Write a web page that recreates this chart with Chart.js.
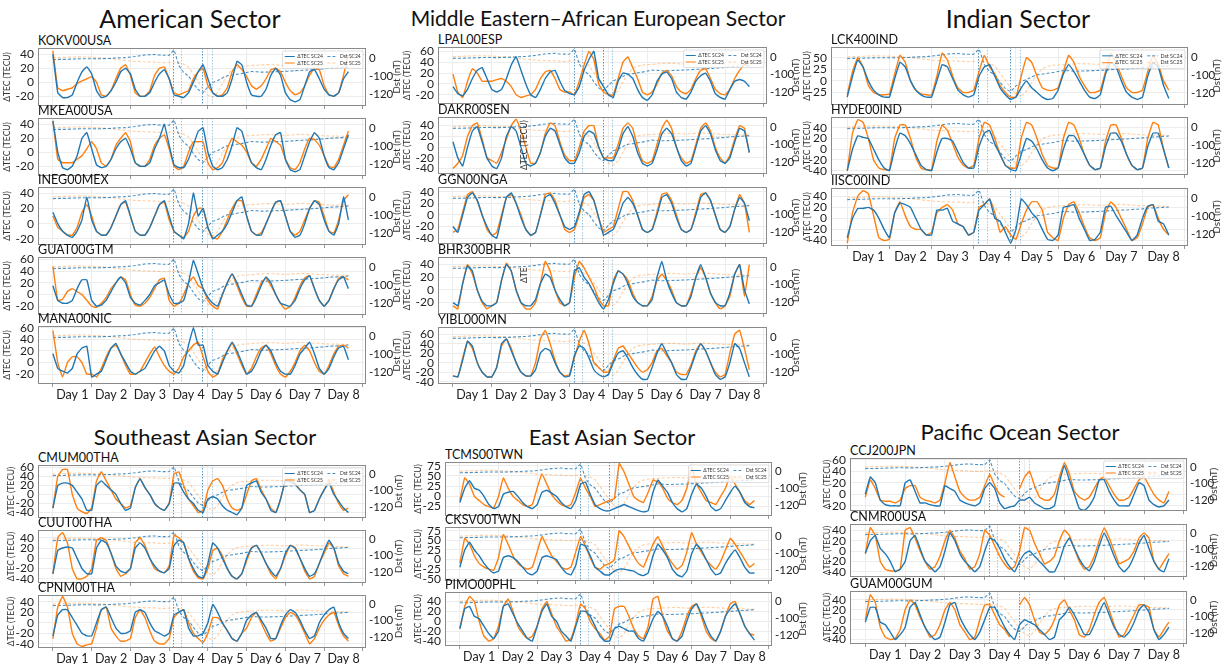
<!DOCTYPE html>
<html>
<head>
<meta charset="utf-8">
<script src="https://cdn.jsdelivr.net/npm/chart.js@4.4.0/dist/chart.umd.min.js"></script>
<style>
  body { margin: 0; background: #fff; }
  #fig { position: relative; width: 1231px; height: 664px; overflow: hidden; font-family: Lato, 'Open Sans', sans-serif; color: #111; }
  .sector { position: absolute; line-height: 28px; white-space: nowrap; transform: translateX(-50%); }
  .station { position: absolute; font-size: 12.5px; line-height: 14px; white-space: nowrap; }
  .stray { position: absolute; font-size: 8.5px; line-height: 10px; white-space: nowrap; color: #333; transform-origin: left top; transform: rotate(-90deg); }
  canvas { position: absolute; }
</style>
</head>
<body>
<div id="fig"></div>
<script>
// ---- time axis (hours from start of Day 1) ----
const hours = [0,3,6,9,12,15,18,21, 24,27,30,33,36,39,42,45, 48,51,54,57,60,63,66,69,
  72,75,78,81,84,87,90,93, 96,99,102,105,108,111,114,117, 120,123,126,129,132,135,138,141,
  144,147,150,153,156,159,162,165, 168,171,174,177,180,183];
const dayLabels = ['Day 1','Day 2','Day 3','Day 4','Day 5','Day 6','Day 7','Day 8'];
const stormMarks = [74.5, 79.5, 92.5, 98.5];

// ---- Dst index (nT), storm of each cycle ----
const dstSC24 = [-9,-8,-8,-7,-6,-5,-4,-4, -4,-5,-4,-3,-2,0,1,2, 5,8,12,16,18,19,16,15,
  15,43,-41,-80,-100,-108,-115,-118, -112,-107,-105,-102,-98,-95,-90,-86,
  -80,-75,-76,-78,-78,-77,-76,-75, -74,-72,-70,-69,-67,-66,-64,-62, -60,-57,-55,-54,-52,-50];
const dstSC25 = [0,2,3,4,5,6,6,5, 4,2,1,-2,-4,-7,-10,-14, -17,-19,-20,-21,-22,-23,-25,-26,
  -24,-22,-27,-35,-50,-90,-106,-114, -121,-123,-118,-108,-97,-65,-52,-46,
  -44,-42,-40,-38,-37,-37,-38,-40, -41,-39,-37,-35,-36,-38,-40,-41, -43,-44,-45,-45,-46,-47];
const dstTicks = [0, -100, -120];

// ---- left axis tick sets (TECU) ----
const ticks40 = [-20, 0, 20, 40];
const ticks60 = [-20, 0, 20, 40, 60];
const ticksPM40 = [-40, -20, 0, 20, 40];
const ticksPM60 = [-40, -20, 0, 20, 40, 60];
const ticks50 = [-25, 0, 25, 50];
const ticks75 = [-25, 0, 25, 50, 75];
const ticks75w = [-50, -25, 0, 25, 50, 75];

// ---- ΔTEC series (TECU), SC24 and SC25 storms ----
const kokv24 = [40,-15,-22,-22,-18,0,15,22, 12,-12,-22,-20,-12,0,15,20, 12,-10,-20,-20,-15,0,12,18,
  5,-18,-20,-22,-15,0,15,25, 5,-15,-20,-20,-15,5,30,25, 0,-18,-20,-20,-10,10,20,10,
  -15,-25,-28,-25,-5,15,18,5, -10,-18,-20,-15,5,15];
const kokv25 = [45,-8,-12,-10,-8,-2,2,5, 8,0,-18,-20,-12,5,20,25, 10,-15,-20,-20,-12,10,20,22,
  5,-15,-18,-15,-12,5,15,20, -5,-15,-20,-18,-8,15,25,18, 8,-5,-10,-5,5,18,20,15,
  0,-12,-18,-15,-5,10,20,18, -5,-18,-20,-15,10,40];
const mkea24 = [45,0,-22,-25,-20,-5,20,28, 5,-18,-22,-20,-10,5,15,20, 5,-15,-20,-20,-15,5,20,40,
  10,-18,-22,-22,-10,10,30,35, 0,-20,-25,-22,-10,10,35,30, 5,-15,-22,-25,-10,10,25,28,
  -10,-25,-28,-25,-5,15,28,20, -5,-22,-25,-15,5,25];
const mkea25 = [45,-10,-15,-15,-15,-10,-5,5, 15,5,-15,-20,-10,10,20,28, 15,-15,-20,-20,-10,10,20,25,
  5,-20,-25,-20,0,15,15,15, -15,-25,-22,-15,5,20,15,10, 0,-15,-20,-10,5,20,15,10,
  -10,-22,-25,-15,5,20,18,10, -5,-20,-22,-10,10,30];
const ineg24 = [15,0,-10,-15,-18,-10,5,35, 5,-10,-15,-15,-5,10,25,30, 10,-10,-15,-15,-5,10,25,30,
  10,-10,-15,-20,0,40,10,20, -5,-20,-15,-10,0,15,30,35, 10,-10,-15,-15,0,15,28,30,
  10,-10,-18,-15,0,20,30,25, 5,-10,-15,0,35,5];
const ineg25 = [10,-5,-10,-15,-15,-5,15,25, 10,-10,-15,-15,-5,10,25,28, 10,-10,-15,-15,-5,10,25,28,
  5,-10,-15,-18,-10,10,20,20, -5,-18,-20,-10,5,20,30,30, 10,-10,-15,-12,0,15,28,30,
  10,-10,-15,-10,5,20,30,28, 10,-10,-12,5,30,38];
const guat24 = [15,-10,-15,-15,-10,10,25,25, -10,-20,-18,-10,5,20,30,20, -5,-15,-18,-10,0,15,20,25,
  0,-15,-15,-10,20,58,35,10, -5,-15,-20,0,20,35,20,0, -18,-20,-5,15,30,20,0,-15,
  -18,-20,-10,10,25,32,10,-10, -20,-10,10,25,30,10];
const guat25 = [48,-10,-8,5,10,5,0,-10, -20,-22,-15,-5,10,20,30,25, 0,-18,-20,-15,-5,10,25,28,
  -10,-20,-15,0,20,30,15,10, -10,-20,-25,0,20,35,15,-5, -20,-20,0,20,28,15,0,-15,
  -25,-20,-5,15,28,32,10,-10, -20,-10,10,28,30,25];
const mana24 = [15,-10,-15,-18,-10,15,25,28, -25,-20,-15,5,25,33,15,0, -15,-20,-15,-10,5,20,28,20,
  -5,-15,-18,-5,30,60,30,30, -5,-15,-20,0,20,35,20,0, -20,-15,0,20,30,20,0,-15,
  -20,-20,-5,15,25,35,15,-10, -20,-10,10,25,28,5];
const mana25 = [55,0,-25,0,10,10,0,-20, -20,-25,-10,10,25,30,15,-5, -20,-20,-15,0,15,27,10,-5,
  -15,-20,-10,10,20,30,35,10, -15,-25,-20,5,20,33,15,-5, -20,-10,10,25,30,15,-5,-20,
  -25,-15,0,20,30,20,0,-15, -20,-5,15,28,30,25];

const lpal24 = [-5,-18,-22,-10,10,25,30,10, -10,-15,-10,10,35,50,25,0, -20,-25,-10,10,22,25,5,-12,
  -18,-20,-5,25,45,60,10,-5, -20,-25,5,20,18,10,-10,-25, -30,-20,5,18,22,10,-15,-25,
  -28,-15,5,15,20,5,-18,-25, -28,-10,5,8,5,-5];
const lpal25 = [18,-15,-25,5,28,20,5,5, 5,8,10,5,-5,-20,-25,-22, -20,-10,10,22,25,10,-10,-15,
  -15,-20,5,35,60,45,0,-15, -20,-20,10,40,50,30,10,-15, -20,-15,0,20,25,15,-5,-15,
  -18,-10,10,25,28,10,-10,-18, -20,-10,10,25,35,40];
const dakr24 = [10,-20,-35,0,30,38,10,-20, -35,-40,-20,20,38,30,0,-30, -35,-30,-10,20,35,30,5,-20,
  -30,-30,-10,20,30,25,0,-20, -25,-25,-5,25,38,20,-10,-30, -35,-30,-5,25,35,25,0,-25,
  -35,-30,0,30,40,25,-5,-25, -30,-20,10,35,30,-10];
const dakr25 = [-40,-30,-15,20,40,45,15,-20, -25,-30,-10,15,40,52,30,0, -30,-30,-10,25,45,40,10,-15,
  -25,-25,0,30,40,40,0,-20, -20,-20,5,35,45,35,0,-25, -30,-25,5,35,50,35,0,-20,
  -30,-25,5,35,45,30,0,-20, -30,-15,15,40,35,-10];
const ggn24 = [-20,-30,0,30,38,25,0,-20, -35,-40,-5,30,38,20,-5,-25, -35,-30,0,30,35,20,0,-20,
  -25,-20,5,35,40,25,-5,-35, -30,-25,-5,20,30,20,0,-25, -30,-25,0,30,35,20,-5,-25,
  -30,-25,0,30,38,25,0,-25, -30,-20,10,30,20,-10];
const ggn25 = [-30,-25,5,35,40,25,0,-25, -35,-30,0,30,35,20,0,-25, -35,-30,0,35,38,25,0,-25,
  -30,-25,0,30,35,25,-5,-30, -25,-20,10,40,40,25,0,-25, -30,-25,5,35,38,25,0,-25,
  -30,-25,5,35,38,25,0,-25, -30,-20,10,35,20,-30];
const bhr24 = [-20,-25,10,38,30,0,-18,-25, -25,-20,15,40,30,0,-20,-25, -25,-15,10,25,20,0,-15,-25,
  -20,30,35,20,10,-5,-20,-30, -15,10,30,25,10,-10,-20,-25, -25,-15,20,45,15,-5,-20,-25,
  -25,-10,20,40,20,-5,-20,-25, -25,-5,25,40,0,-22];
const bhr25 = [-25,-30,10,40,25,0,-20,-30, -25,-20,15,42,30,0,-20,-30, -30,-20,10,45,30,0,-20,-25,
  -20,20,45,35,20,5,-15,-25, -25,15,30,25,15,-5,-20,-25, -25,-10,15,25,15,0,-20,-25,
  -25,-5,20,35,20,-5,-20,-30, -25,-10,25,40,-10,40];
const yibl24 = [-28,-30,5,45,35,0,-20,-30, -30,-10,40,50,25,0,-20,-28, -28,-15,20,30,25,0,-20,-30,
  -28,15,35,30,10,-15,-25,-30, -25,0,20,25,10,-10,-25,-35, -35,-10,20,40,20,0,-25,-35,
  -35,-10,20,40,25,0,-25,-35, -30,0,40,30,0,-30];
const yibl25 = [-28,-30,10,45,30,0,-20,-30, -30,-10,35,50,30,0,-20,-28, -28,0,50,68,40,5,-20,-28,
  -25,10,45,68,40,0,-10,-20, -20,5,30,35,20,5,-10,-20, -15,0,25,30,15,0,-20,-25,
  -25,-5,25,40,25,0,-20,-30, -25,20,60,68,30,-15];

const lck424 = [-35,10,45,30,0,-20,-30,-35, -35,5,40,30,0,-20,-30,-35, -35,0,35,30,5,-20,-30,-35,
  -30,10,30,35,10,-15,-30,-40, -35,-15,0,-15,-25,-35,-40,-38, -20,15,35,20,0,-20,-35,-38,
  -30,15,40,30,0,-25,-35,-40, -35,10,40,30,-10,-38];
const lck425 = [-30,20,50,30,-10,-25,-30,-30, -28,15,55,40,0,-20,-28,-30, -30,10,60,45,10,-15,-25,-25,
  -20,20,55,30,15,-10,-25,-35, -35,10,50,40,10,-15,-20,-20, -15,20,55,40,10,-10,-25,-25,
  -20,20,60,40,10,-15,-25,-25, -20,20,55,35,0,-20];
const hyde24 = [-40,0,25,22,20,0,-20,-35, -40,0,30,25,10,-10,-30,-38, -40,-5,20,20,15,-5,-25,-35,
  -35,5,30,35,10,-10,-30,-38, -40,-10,20,15,0,-20,-35,-40, -35,0,25,25,10,-10,-30,-38,
  -35,5,30,30,15,-10,-30,-38, -35,5,30,30,0,-35];
const hyde25 = [-40,30,55,50,20,-20,-35,-38, -38,20,45,45,20,-15,-35,-38, -38,15,45,35,10,-15,-30,-35,
  -30,20,50,45,20,-10,-30,-35, -35,20,50,45,20,-10,-30,-35, -35,20,50,45,20,-10,-30,-38,
  -35,15,45,45,20,-10,-30,-38, -35,20,50,45,0,-35];
const iisc24 = [-35,0,18,18,20,15,0,-20, -35,10,28,25,20,0,-20,-30, -30,15,15,18,-5,-10,-15,-30,
  -25,15,25,35,0,-5,-25,-45, -20,35,25,10,0,-20,-38,-40, -30,20,22,25,0,-20,-40,-38,
  -25,20,22,5,-10,-25,-40,-30, 0,22,25,-5,-10,-30];
const iisc25 = [-45,10,40,50,45,5,-35,-40, -38,10,30,5,-15,-20,-20,-30, -25,10,20,25,15,-10,-15,-30,
  -25,20,25,35,10,-25,-15,-30, -38,-10,15,30,30,15,-25,-35, -40,0,25,30,10,-15,-35,-40,
  -35,10,30,20,0,-20,-40,-35, -10,20,25,0,-20,-30];

const cmum24 = [-30,20,25,25,20,5,-10,-35, -35,20,30,20,10,0,-20,-35, -30,15,35,15,0,-20,-30,-35,
  -20,25,25,5,-10,-20,-35,-40, -10,-5,-10,-25,-35,-40,-45,-30, 20,25,30,5,-10,-35,-40,-10,
  30,28,22,10,0,-40,-35,-10, 10,25,0,-15,-30,-40];
const cmum25 = [-30,40,55,55,0,-30,-38,-42, -30,30,50,30,10,-10,-20,-30, -25,15,35,15,0,-20,-30,-35,
  -20,45,50,20,-10,-25,-40,-35, 10,30,35,20,-10,-30,-35,-30, 0,30,35,10,-10,-30,-40,-10,
  30,35,25,10,0,-40,-35,-10, 10,30,5,-20,-35,-30];
const cuut24 = [-30,15,20,22,20,0,-20,-30, -30,20,35,30,10,-15,-25,-28, -20,20,30,20,0,-15,-25,-28,
  -20,25,35,30,0,-20,-35,-38, -10,30,20,0,-20,-35,-40,-30, 0,20,25,10,-10,-25,-35,-20,
  10,25,20,0,-20,-35,-30,-10, 15,35,20,-10,-25,-30];
const cuut25 = [-30,40,50,30,-20,-40,-40,-35, -20,35,40,35,10,-20,-35,-30, -20,30,40,25,0,-20,-25,-28,
  -15,45,40,30,0,-25,-38,-40, -20,15,20,5,-20,-35,-40,-30, -5,20,25,10,-10,-30,-40,-20,
  5,25,20,0,-25,-40,-35,-10, 10,30,20,-15,-30,-35];
const cpnm24 = [-25,15,25,25,10,-5,-20,-25, -25,0,25,30,10,-10,-20,-20, -15,20,25,20,0,-15,-20,-25,
  -20,15,20,25,-10,-25,-25,-20, 0,35,20,0,-15,-30,-35,-20, 5,15,20,5,-10,-30,-30,-5,
  15,25,20,5,-15,-30,-25,0, 15,25,30,0,-20,-30];
const cpnm25 = [-30,30,50,30,-20,-40,-45,-42, -40,-10,25,30,-10,-25,-35,-35, -30,10,25,10,-15,-35,-40,-40,
  -30,10,20,25,0,-20,-30,-38, -20,10,10,0,-15,-30,-35,-20, -10,10,20,0,-20,-35,-30,-10,
  10,20,15,0,-20,-40,-30,-10, 5,15,20,-5,-25,-35];

const tcms24 = [-15,20,38,20,15,0,-20,-30, -25,5,10,12,0,-15,-25,-30, -20,10,15,8,0,-15,-25,-30,
  -10,30,35,5,-20,-30,-35,-35, -30,-25,-20,-25,-30,-35,-38,-35, 10,40,25,10,-15,-30,-38,-30,
  5,30,20,0,-25,-35,-30,-10, 10,25,10,-15,-25,-28];
const tcms25 = [-10,45,30,0,-10,-20,-25,-28, 0,45,20,0,-10,-20,-25,-20, 20,55,30,5,-10,-20,-25,-20,
  10,45,20,0,-25,-20,-15,-10, -5,80,60,30,0,-10,-15,10, 40,35,20,-5,-15,-20,-10,20,
  70,30,10,-10,-15,-20,0,20, 50,30,10,-10,-20,-10];
const cksv24 = [-20,25,45,25,10,-10,-25,-35, -30,5,10,5,-5,-20,-35,-40, -30,5,10,5,0,-20,-35,-40,
  -15,40,35,10,-20,-30,-40,-40, -30,-25,-25,-28,-30,-38,-42,-35, 10,40,25,5,-25,-40,-45,-30,
  15,40,25,0,-25,-40,-35,-10, 10,25,5,-20,-35,-35];
const cksv25 = [-10,55,40,10,-10,-20,-25,-28, 5,65,40,10,-10,-20,-25,-20, 20,60,35,10,-5,-20,-25,-20,
  20,60,35,5,-20,-25,-15,-10, 0,75,60,35,10,-10,-20,10, 40,60,35,10,-10,-25,-15,20,
  70,40,20,0,-15,-25,-5,25, 55,40,20,0,-20,-10];
const pimo24 = [-15,25,30,10,5,-10,-25,-35, -20,30,35,15,-5,-20,-35,-40, -10,20,35,10,0,-20,-30,-40,
  -10,20,20,10,-10,-30,-40,-40, -15,-10,-15,-20,-20,-35,-40,-20, 5,20,10,-10,-35,-40,-30,0,
  25,35,15,-10,-30,-40,-20,10, 25,35,15,-10,-25,-38];
const pimo25 = [-15,30,50,40,0,-30,-40,-35, -10,30,45,20,-10,-25,-35,-30, -10,25,40,15,-10,-25,-40,-35,
  -5,35,25,0,-15,-25,-38,-30, 25,30,30,10,-15,-30,-35,-10, 45,50,10,-20,-35,-40,-20,10,
  30,35,10,-20,-35,-40,-20,10, 35,40,15,-10,-25,-28];

const ccj224 = [0,30,20,-10,-18,-20,-20,-20, 20,25,5,-15,-15,-18,-20,-20, 15,10,5,-10,-15,-18,-20,-15,
  10,20,10,-15,-25,-22,-20,-10, -10,-5,-15,-20,-25,-25,-20,20, 50,25,0,-25,-28,-20,-5,25,
  25,5,-10,-20,-20,-20,0,20, 15,-10,-18,-22,-20,-10];
const ccj225 = [-5,25,10,-10,-12,-12,-15,-10, 10,15,15,-5,-10,-12,-15,-10, 20,55,30,5,-5,-10,-10,-5,
  15,35,15,0,-5,null,null,10, 30,40,15,-5,-10,-10,0,30, 55,35,5,-5,-10,-5,10,25,
  30,15,0,-10,-10,-5,10,25, 30,15,0,-10,-15,5];
const cnmr24 = [-5,20,30,5,-5,-20,-40,-35, -20,20,30,5,-20,-30,-40,-30, 0,35,20,-5,-20,-30,-40,-30,
  0,25,20,5,-15,-30,-40,-20, -5,0,-10,-20,-30,-40,-40,-20, 10,25,5,-15,-30,-38,-20,10,
  35,15,-10,-30,-40,-30,-10,15, 30,5,-20,-35,-40,-15];
const cnmr25 = [-5,45,30,-20,-35,-38,-38,-35, 40,45,25,0,-20,-35,-30,-10, 20,40,25,0,-15,-35,-30,-5,
  40,30,10,-10,-25,-35,-30,0, 45,40,15,-5,-25,-20,-10,20, 40,30,5,-20,-35,-30,-10,20,
  45,25,0,-25,-20,-15,0,25, 35,25,-20,-35,-20,-5];
const guam24 = [-5,25,25,-5,-10,-25,-40,-30, -15,25,35,10,-15,-30,-40,-35, -5,30,35,5,-15,-30,-40,-25,
  0,25,25,5,-15,-30,-40,-10, 0,-5,-10,-20,-30,-40,-35,0, 10,25,10,-10,-30,-30,-10,15,
  35,10,-15,-30,-35,-25,-5,20, 30,15,-20,-40,-30,-15];
const guam25 = [0,50,35,-15,-35,-40,-38,-20, 20,40,30,5,-15,-35,-30,-10, 20,35,20,-10,-25,-40,-35,0,
  30,30,10,-10,-20,-35,null,30, 45,30,0,-25,-30,-20,0,30, 40,20,0,-30,-35,-20,10,35,
  45,20,-10,-35,-30,-10,10,30, 30,25,-20,-35,-20,-5];

// ---- figure layout ----
const sectors = [
  { title: 'American Sector', fs: 25, cx: 190, cy: 18, left: 38, right: 366, tops: [48, 118, 187, 257, 326], h: 58, lw: 38, rw: 40, tpad: 2, dstX: 397, legend: 5 },
  { title: 'Middle Eastern\u2013African European Sector', fs: 21, cx: 598, cy: 18, left: 438, right: 767, tops: [47, 117, 187, 257, 327], h: 57, lw: 38, rw: 33, tpad: 2, dstX: 796, legend: 5 },
  { title: 'Indian Sector', fs: 25, cx: 1018, cy: 18, left: 831, right: 1188, tops: [47, 117, 188], h: 58, lw: 31, rw: 40, tpad: 2, dstX: 1217, legend: 5.3 },
  { title: 'Southeast Asian Sector', fs: 22, cx: 205, cy: 437, left: 38, right: 366, tops: [465, 530, 595], h: 53, lw: 38, rw: 40, tpad: 6, dstX: 399, legend: 5 },
  { title: 'East Asian Sector', fs: 22, cx: 612, cy: 437, left: 445, right: 772, tops: [462, 527, 592], h: 54, lw: 45, rw: 38, tpad: 13, dstX: 803, legend: 5 },
  { title: 'Pacific Ocean Sector', fs: 22, cx: 1020, cy: 432, left: 850, right: 1187, tops: [458, 524, 591], h: 53, lw: 40, rw: 41, tpad: 12, dstX: 1214, legend: 5 }
];

const panels = [
  { station: 'KOKV00USA', sector: 0, sc24: kokv24, sc25: kokv25, ticks: ticks40, range: [-34, 49] },
  { station: 'MKEA00USA', sector: 0, sc24: mkea24, sc25: mkea25, ticks: ticks40, range: [-34, 49] },
  { station: 'INEG00MEX', sector: 0, sc24: ineg24, sc25: ineg25, ticks: ticks40, range: [-28, 48] },
  { station: 'GUAT00GTM', sector: 0, sc24: guat24, sc25: guat25, ticks: ticks60, range: [-35, 64] },
  { station: 'MANA00NIC', sector: 0, sc24: mana24, sc25: mana25, ticks: ticks60, range: [-37, 63] },
  { station: 'LPAL00ESP', sector: 1, sc24: lpal24, sc25: lpal25, ticks: ticks60, range: [-37, 68] },
  { station: 'DAKR00SEN', sector: 1, sc24: dakr24, sc25: dakr25, ticks: ticksPM40, range: [-50, 56] },
  { station: 'GGN00NGA', sector: 1, sc24: ggn24, sc25: ggn25, ticks: ticksPM40, range: [-50, 48] },
  { station: 'BHR300BHR', sector: 1, sc24: bhr24, sc25: bhr25, ticks: ticks40, range: [-38, 52] },
  { station: 'YIBL000MN', sector: 1, sc24: yibl24, sc25: yibl25, ticks: ticksPM60, range: [-45, 75] },
  { station: 'LCK400IND', sector: 2, sc24: lck424, sc25: lck425, ticks: ticks50, range: [-52, 73] },
  { station: 'HYDE00IND', sector: 2, sc24: hyde24, sc25: hyde25, ticks: ticksPM40, range: [-48, 60] },
  { station: 'IISC00IND', sector: 2, sc24: iisc24, sc25: iisc25, ticks: ticksPM40, range: [-50, 55] },
  { station: 'CMUM00THA', sector: 3, sc24: cmum24, sc25: cmum25, ticks: ticksPM60, range: [-52, 65] },
  { station: 'CUUT00THA', sector: 3, sc24: cuut24, sc25: cuut25, ticks: ticksPM40, range: [-48, 55] },
  { station: 'CPNM00THA', sector: 3, sc24: cpnm24, sc25: cpnm25, ticks: ticksPM40, range: [-48, 53] },
  { station: 'TCMS00TWN', sector: 4, sc24: tcms24, sc25: tcms25, ticks: ticks75, range: [-48, 84] },
  { station: 'CKSV00TWN', sector: 4, sc24: cksv24, sc25: cksv25, ticks: ticks75w, range: [-56, 85] },
  { station: 'PIMO00PHL', sector: 4, sc24: pimo24, sc25: pimo25, ticks: ticksPM40, range: [-50, 59] },
  { station: 'CCJ200JPN', sector: 5, sc24: ccj224, sc25: ccj225, ticks: ticks60, range: [-29, 63] },
  { station: 'CNMR00USA', sector: 5, sc24: cnmr24, sc25: cnmr25, ticks: ticksPM40, range: [-50, 52] },
  { station: 'GUAM00GUM', sector: 5, sc24: guam24, sc25: guam25, ticks: ticksPM40, range: [-49, 58] }
];

const FONT = "Lato, 'Open Sans', sans-serif";
Chart.defaults.font.family = FONT;
Chart.defaults.color = '#222';

// Dst axis: linear down to -100 nT, stretched 5x below -100 nT
const dstWarp = v => (v >= -100 ? v : -100 + (v + 100) * 5);
const dstUnwarp = u => (u >= -100 ? u : -100 + (u + 100) / 5);
class DstScale extends Chart.LinearScale {
  getPixelForValue(value) {
    const a = dstWarp(this.min), b = dstWarp(this.max);
    return this.getPixelForDecimal((dstWarp(value) - a) / (b - a));
  }
  getValueForPixel(pixel) {
    const a = dstWarp(this.min), b = dstWarp(this.max);
    return dstUnwarp(a + this.getDecimalForPixel(pixel) * (b - a));
  }
}
DstScale.id = 'dstScale';
DstScale.defaults = Chart.LinearScale.defaults;
Chart.register(DstScale);

// frame around the plot area and the right-hand axis title
const framePlugin = {
  id: 'frame',
  afterDatasetsDraw(chart, _args, o) {
    const { ctx, chartArea: ca } = chart;
    ctx.save();
    ctx.strokeStyle = '#8a8a8a';
    ctx.lineWidth = 1;
    ctx.strokeRect(Math.round(ca.left) + 0.5, Math.round(ca.top) + 0.5,
      Math.round(ca.right - ca.left) - 1, Math.round(ca.bottom - ca.top) - 1);
    ctx.translate(o.titleX, (ca.top + ca.bottom) / 2);
    ctx.rotate(-Math.PI / 2);
    ctx.fillStyle = '#333';
    ctx.font = '10px ' + FONT;
    ctx.textAlign = 'center';
    ctx.textBaseline = 'middle';
    ctx.fillText('Dst (nT)', 0, 0);
    ctx.restore();
  }
};

// dotted vertical lines marking the storm phases
const marksPlugin = {
  id: 'marks',
  beforeDatasetsDraw(chart) {
    const { ctx, chartArea: ca, scales } = chart;
    ctx.save();
    ctx.lineWidth = 1;
    ctx.setLineDash([1.5, 1.5]);
    stormMarks.forEach((h, i) => {
      const x = Math.round(scales.x.getPixelForValue(h / 24)) + 0.5;
      ctx.strokeStyle = i % 2 === 0 ? 'rgba(31,119,180,0.75)' : 'rgba(31,119,180,0.4)';
      ctx.beginPath();
      ctx.moveTo(x, ca.top);
      ctx.lineTo(x, ca.bottom);
      ctx.stroke();
    });
    ctx.restore();
  }
};

// two-column legend in the upper right corner of the plot area
const legendPlugin = {
  id: 'cornerLegend',
  afterDatasetsDraw(chart, _args, o) {
    if (!o.show) return;
    const { ctx, chartArea: ca } = chart;
    const fs = o.size;
    ctx.save();
    ctx.font = fs + 'px ' + FONT;
    const ds = chart.data.datasets;
    const cols = [[ds[0], ds[1]], [ds[2], ds[3]]];
    const line = fs * 2, gap = fs * 0.5, colGap = fs * 0.9, rowH = fs * 1.3, pad = fs * 0.45;
    const colW = cols.map(c => line + gap + Math.max(...c.map(d => ctx.measureText(d.label).width)));
    const w = pad * 2 + colW[0] + colGap + colW[1];
    const h = pad * 2 + rowH * 2;
    const x0 = ca.right - 3 - w, y0 = ca.top + 3;
    ctx.fillStyle = 'rgba(255,255,255,0.8)';
    ctx.strokeStyle = 'rgba(205,205,205,0.9)';
    ctx.lineWidth = 0.7;
    ctx.beginPath();
    ctx.roundRect(x0, y0, w, h, 1.5);
    ctx.fill();
    ctx.stroke();
    let x = x0 + pad;
    cols.forEach((c, ci) => {
      c.forEach((d, ri) => {
        const y = y0 + pad + rowH * (ri + 0.5);
        ctx.strokeStyle = d.borderColor;
        ctx.lineWidth = 1;
        ctx.setLineDash(d.borderDash || []);
        ctx.beginPath();
        ctx.moveTo(x, y);
        ctx.lineTo(x + line, y);
        ctx.stroke();
        ctx.setLineDash([]);
        ctx.fillStyle = '#333';
        ctx.textBaseline = 'middle';
        ctx.fillText(d.label, x + line + gap, y);
      });
      x += colW[ci] + colGap;
    });
    ctx.restore();
  }
};

const fig = document.getElementById('fig');
sectors.forEach(s => {
  const d = document.createElement('div');
  d.className = 'sector';
  d.textContent = s.title;
  d.style.fontSize = s.fs + 'px';
  d.style.left = s.cx + 'px';
  d.style.top = (s.cy - 14) + 'px';
  fig.appendChild(d);
});

const dayTicks = [0, 0.5, 1, 1.5, 2, 2.5, 3, 3.5, 4, 4.5, 5, 5.5, 6, 6.5, 7, 7.5, 8];
const series = arr => hours.map((h, i) => ({ x: h / 24, y: arr[i] }));
const rowCount = sectors.map(() => 0);
// keep the plot area fixed: no extra room reserved for labels at the ends of an axis
const noEdgePadding = sc => { sc.paddingTop = 0; sc.paddingBottom = 0; sc.paddingLeft = 0; sc.paddingRight = 0; };

panels.forEach(p => {
  const s = sectors[p.sector];
  const row = rowCount[p.sector]++;
  const top = s.tops[row];
  const isFirst = row === 0;
  const isLast = row === s.tops.length - 1;
  const padTop = 7;
  const hx = isLast ? 24 : 7;
  const W = s.lw + (s.right - s.left) + s.rw;
  const H = padTop + s.h + hx;
  const canvasLeft = s.left - s.lw;

  const label = document.createElement('div');
  label.className = 'station';
  label.textContent = p.station;
  label.style.left = s.left + 'px';
  label.style.top = (top - 14) + 'px';
  fig.appendChild(label);

  const cv = document.createElement('canvas');
  cv.width = W;
  cv.height = H;
  cv.style.left = canvasLeft + 'px';
  cv.style.top = (top - padTop) + 'px';
  cv.style.width = W + 'px';
  cv.style.height = H + 'px';
  fig.appendChild(cv);

  new Chart(cv, {
    type: 'line',
    data: {
      datasets: [
        { label: '\u0394TEC SC24', data: series(p.sc24), yAxisID: 'y', borderColor: '#1f77b4', borderWidth: 1.4, pointRadius: 0, tension: 0.1 },
        { label: '\u0394TEC SC25', data: series(p.sc25), yAxisID: 'y', borderColor: '#ff7f0e', borderWidth: 1.4, pointRadius: 0, tension: 0.1 },
        { label: 'Dst SC24', data: series(dstSC24), yAxisID: 'dst', borderColor: 'rgba(31,119,180,0.8)', borderDash: [3, 2], borderWidth: 1.1, pointRadius: 0, tension: 0.1 },
        { label: 'Dst SC25', data: series(dstSC25), yAxisID: 'dst', borderColor: 'rgba(255,127,14,0.38)', borderDash: [3, 2], borderWidth: 1.1, pointRadius: 0, tension: 0.1 }
      ]
    },
    options: {
      responsive: false,
      animation: false,
      events: [],
      layout: { padding: { top: padTop, left: 0, right: 0, bottom: 0 } },
      plugins: {
        legend: { display: false },
        tooltip: { enabled: false },
        cornerLegend: { show: isFirst, size: s.legend },
        frame: { titleX: s.dstX - canvasLeft }
      },
      scales: {
        x: {
          type: 'linear', min: -0.385, max: 8.08,
          afterBuildTicks: sc => { sc.ticks = dayTicks.map(v => ({ value: v })); },
          ticks: {
            display: isLast, autoSkip: false, maxRotation: 0, minRotation: 0, padding: 0,
            font: { size: 12.5, family: FONT }, color: '#222',
            callback: v => (v % 1 === 0.5 ? dayLabels[Math.floor(v)] : '')
          },
          grid: {
            color: c => (c.tick && c.tick.value % 1 === 0 ? '#ececec' : 'rgba(0,0,0,0)'),
            tickColor: c => (c.tick && c.tick.value % 1 === 0 ? '#999' : 'rgba(0,0,0,0)'),
            tickLength: 3, drawTicks: true
          },
          border: { display: false },
          afterFit: sc => { sc.height = hx; noEdgePadding(sc); }
        },
        y: {
          position: 'left', min: p.range[0], max: p.range[1], bounds: 'data',
          afterBuildTicks: sc => { sc.ticks = p.ticks.map(v => ({ value: v })); },
          ticks: { autoSkip: false, font: { size: 12, family: FONT }, color: '#222', padding: 4, callback: v => String(v) },
          grid: { color: '#ececec', drawTicks: false },
          border: { display: false },
          title: { display: true, text: '\u0394TEC (TECU)', font: { size: 8.5, family: FONT }, color: '#333', padding: { top: s.tpad, bottom: 0 } },
          afterFit: sc => { sc.width = s.lw; noEdgePadding(sc); }
        },
        dst: {
          type: 'dstScale', position: 'right', min: -133, max: 55, bounds: 'data',
          afterBuildTicks: sc => { sc.ticks = dstTicks.map(v => ({ value: v })); },
          ticks: { autoSkip: false, font: { size: 11.5, family: FONT }, color: '#222', padding: 3, callback: v => String(v) },
          grid: { display: false, drawTicks: false },
          border: { display: false },
          afterFit: sc => { sc.width = s.rw; noEdgePadding(sc); }
        }
      }
    },
    plugins: [marksPlugin, framePlugin, legendPlugin]
  });
});

// axis titles left over inside two of the Middle Eastern–African panels
[{ text: '\u0394TEC (TECU)', left: 519, bottom: 170 }, { text: '\u0394TE', left: 519, bottom: 283 }].forEach(t => {
  const d = document.createElement('div');
  d.className = 'stray';
  d.textContent = t.text;
  d.style.left = t.left + 'px';
  d.style.top = t.bottom + 'px';
  fig.appendChild(d);
});
</script>
</body>
</html>
